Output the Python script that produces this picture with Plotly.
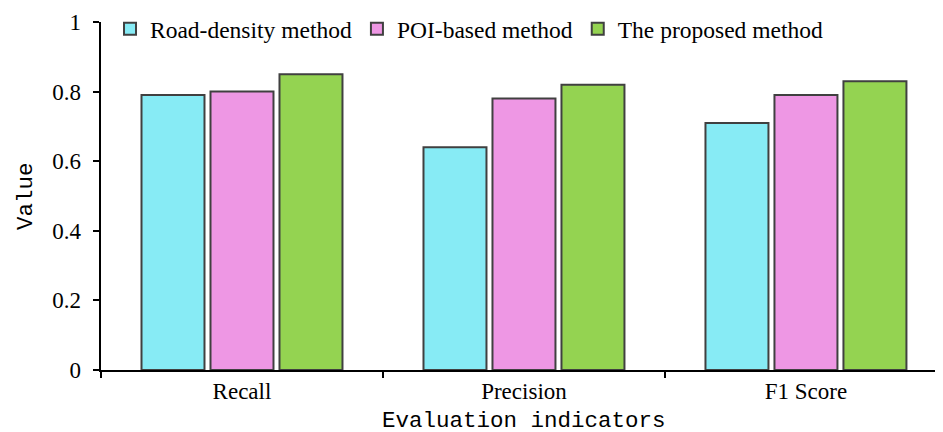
import plotly.graph_objects as go

categories = ["Recall", "Precision", "F1 Score"]
series_names = ["Road-density method", "POI-based method", "The proposed method"]
road_density = [0.79, 0.64, 0.71]
poi_based = [0.80, 0.78, 0.79]
proposed = [0.85, 0.82, 0.83]
y_tick_vals = [0, 0.2, 0.4, 0.6, 0.8, 1.0]
y_tick_text = ["0", "0.2", "0.4", "0.6", "0.8", "1"]
x_title = "Evaluation indicators"
y_title = "Value"

colors = ["#87EBF5", "#EE97E4", "#94D351"]
values = [road_density, poi_based, proposed]

fig = go.Figure()
for name, vals, col in zip(series_names, values, colors):
    fig.add_trace(go.Bar(
        x=categories, y=vals, name=name,
        marker=dict(color=col, line=dict(color="#404040", width=2)),
    ))

serif = "Liberation Serif, Times New Roman, serif"
mono = "Liberation Mono, Courier New, monospace"

# small trailing gap to push y tick labels away from the axis
y_labels_padded = [t + "\u00a0\u200a" for t in y_tick_text]

# page body has an 8px margin; compensate in figure size/margins
fig.update_layout(
    template="none",
    width=935, height=424,
    margin=dict(l=93, r=0, t=14, b=62, autoexpand=False),
    paper_bgcolor="white", plot_bgcolor="white",
    barmode="group", bargap=0.266, bargroupgap=0.087,
    font=dict(family=serif, size=23, color="black"),
    legend=dict(
        orientation="h", x=0.0107, xanchor="left", y=0.98, yanchor="middle",
        font=dict(family=serif, size=23.5, color="black"),
        itemwidth=30, bgcolor="rgba(0,0,0,0)", tracegroupgap=0, borderwidth=0,
    ),
    xaxis=dict(
        range=[-0.5, 2.486], showline=True, linecolor="black", linewidth=1.5,
        ticks="outside", tickson="boundaries", ticklen=6, tickwidth=1.5, tickcolor="black",
        showgrid=False, zeroline=False, automargin=False,
        tickfont=dict(family=serif, size=23),
    ),
    yaxis=dict(
        range=[0, 1], tickvals=y_tick_vals, ticktext=y_labels_padded,
        showline=True, linecolor="black", linewidth=1.5,
        ticks="outside", ticklen=6, tickwidth=1.5, tickcolor="black",
        showgrid=False, zeroline=False, automargin=False,
        tickfont=dict(family=serif, size=23),
    ),
    annotations=[
        dict(text=x_title, xref="paper", yref="paper", x=0.5018, y=-0.1466,
             xanchor="center", yanchor="middle", showarrow=False,
             font=dict(family=mono, size=22.5, color="black")),
        dict(text=y_title, xref="paper", yref="paper", x=-0.0891, y=0.5,
             xanchor="center", yanchor="middle", showarrow=False, textangle=-90,
             font=dict(family=mono, size=22.5, color="black")),
    ],
)

fig.write_html("out.html")
